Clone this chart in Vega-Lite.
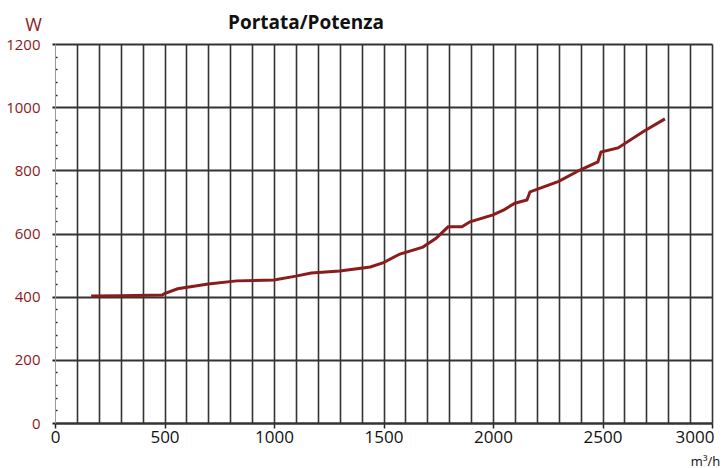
{
  "$schema": "https://vega.github.io/schema/vega-lite/v6.json",
  "width": 657,
  "height": 379,
  "autosize": {"type": "none"},
  "padding": {"left": 55, "top": 44, "right": 11, "bottom": 45},
  "background": "white",
  "config": {"view": {"stroke": null}, "font": "Open Sans"},
  "title": {
    "text": "Portata/Potenza",
    "anchor": "start",
    "frame": "group",
    "dx": 173,
    "offset": -32,
    "baseline": "alphabetic",
    "fontSize": 19,
    "fontWeight": "bold",
    "color": "#111111",
    "font": "Open Sans"
  },
  "data": {
    "values": [
      {"portata": 165, "potenza": 402},
      {"portata": 300, "potenza": 403},
      {"portata": 490, "potenza": 405},
      {"portata": 500, "potenza": 410},
      {"portata": 560, "potenza": 425},
      {"portata": 700, "potenza": 440},
      {"portata": 830, "potenza": 450},
      {"portata": 1000, "potenza": 453},
      {"portata": 1100, "potenza": 465},
      {"portata": 1170, "potenza": 475},
      {"portata": 1300, "potenza": 481},
      {"portata": 1440, "potenza": 494},
      {"portata": 1500, "potenza": 508},
      {"portata": 1575, "potenza": 535},
      {"portata": 1680, "potenza": 557},
      {"portata": 1740, "potenza": 585},
      {"portata": 1795, "potenza": 621},
      {"portata": 1858, "potenza": 621},
      {"portata": 1895, "potenza": 637},
      {"portata": 2000, "potenza": 659},
      {"portata": 2050, "potenza": 675},
      {"portata": 2100, "potenza": 696},
      {"portata": 2155, "potenza": 706},
      {"portata": 2169, "potenza": 732},
      {"portata": 2300, "potenza": 765},
      {"portata": 2397, "potenza": 801},
      {"portata": 2479, "potenza": 827},
      {"portata": 2493, "potenza": 858},
      {"portata": 2571, "potenza": 871},
      {"portata": 2685, "potenza": 922},
      {"portata": 2785, "potenza": 963}
    ]
  },
  "mark": {"type": "line", "color": "#8a1c1c", "strokeWidth": 3, "interpolate": "linear"},
  "encoding": {
    "x": {
      "field": "portata",
      "type": "quantitative",
      "scale": {"domain": [0, 3000], "nice": false, "zero": true},
      "axis": {
        "values": [0,100,200,300,400,500,600,700,800,900,1000,1100,1200,1300,1400,1500,1600,1700,1800,1900,2000,2100,2200,2300,2400,2500,2600,2700,2800,2900,3000],
        "labelExpr": "datum.value % 500 === 0 ? datum.value : ''",
        "labelFontSize": 17,
        "labelColor": "#111111",
        "labelFont": "Open Sans",
        "labelPadding": 1,
        "labelFlush": false,
        "labelOverlap": false,
        "labelAlign": {"condition": {"test": "datum.value === 3000", "value": "right"}, "value": "center"},
        "labelOffset": {"condition": {"test": "datum.value === 3000", "value": 2}, "value": 0},
        "tickSize": {"condition": {"test": "datum.value % 500 === 0", "value": 5}, "value": 0},
        "tickColor": "#222222",
        "tickWidth": 1.5,
        "domainColor": "#333333",
        "domainWidth": 2.5,
        "grid": true,
        "gridColor": "#333333",
        "gridWidth": 1.6,
        "gridOpacity": {"condition": {"test": "datum.value === 0", "value": 0}, "value": 1},
        "title": "m³/h",
        "titleFont": "Open Sans",
        "titleFontSize": 13,
        "titleFontWeight": "normal",
        "titleColor": "#111111",
        "titleX": 650,
        "titleY": 45,
        "titleAlign": "center",
        "titleBaseline": "bottom"
      }
    },
    "y": {
      "field": "potenza",
      "type": "quantitative",
      "scale": {"domain": [0, 1200], "nice": false},
      "axis": {
        "values": [0,40,80,120,160,200,240,280,320,360,400,440,480,520,560,600,640,680,720,760,800,840,880,920,960,1000,1040,1080,1120,1160,1200],
        "labelExpr": "datum.value % 200 === 0 ? datum.value : ''",
        "labelFontSize": 15,
        "labelColor": "#8b1a1a",
        "labelFont": "Open Sans",
        "labelPadding": 12,
        "labelFlush": false,
        "labelOverlap": false,
        "tickSize": {"condition": {"test": "datum.value % 200 === 0", "value": 3}, "value": -2},
        "tickColor": "#222222",
        "tickWidth": {"condition": {"test": "datum.value % 200 === 0", "value": 2}, "value": 1.5},
        "domainColor": "#999999",
        "domainWidth": 1,
        "grid": true,
        "gridColor": "#333333",
        "gridWidth": 2.2,
        "gridOpacity": {"condition": {"test": "datum.value % 200 === 0 && datum.value > 0", "value": 1}, "value": 0},
        "title": "W",
        "titleFont": "Open Sans",
        "titleFontSize": 18,
        "titleFontWeight": "normal",
        "titleColor": "#8b1a1a",
        "titleAngle": 0,
        "titleX": -22,
        "titleY": -19,
        "titleAlign": "center",
        "titleBaseline": "middle"
      }
    }
  }
}
